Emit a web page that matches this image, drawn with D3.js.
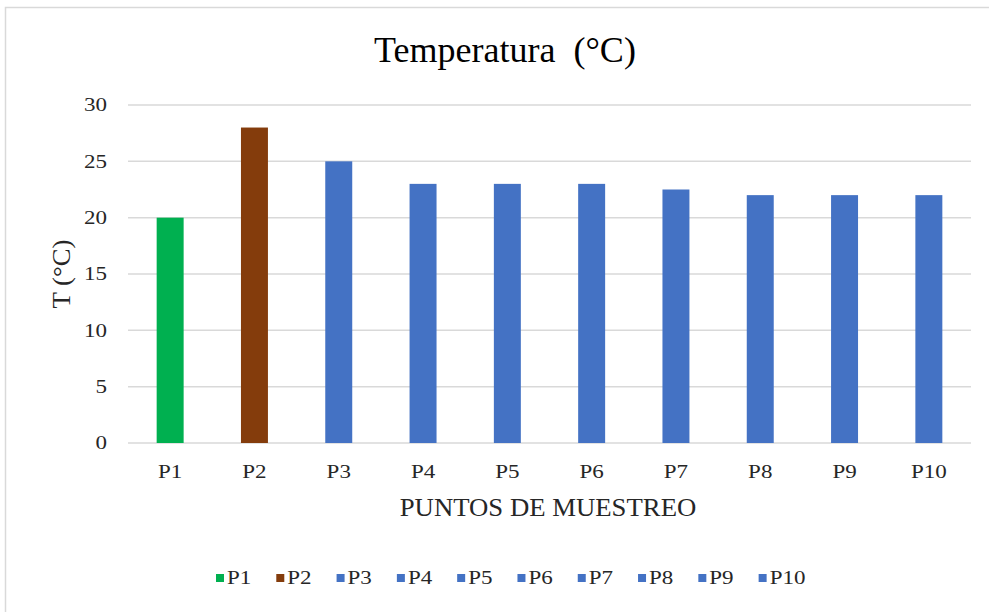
<!DOCTYPE html>
<html>
<head>
<meta charset="utf-8">
<script src="https://cdn.jsdelivr.net/npm/d3@7"></script>
<style>
  body { margin: 0; background: #fff; }
  text { font-family: "Liberation Serif", "Times New Roman", serif; }
</style>
</head>
<body>
<svg width="989" height="612"></svg>
<script>
var categories = ["P1", "P2", "P3", "P4", "P5", "P6", "P7", "P8", "P9", "P10"];
var temps = [20, 28, 25, 23, 23, 23, 22.5, 22, 22, 22];
var barColors = ["#00b050", "#843c0c", "#4472c4", "#4472c4", "#4472c4", "#4472c4", "#4472c4", "#4472c4", "#4472c4", "#4472c4"];
var yTicks = [0, 5, 10, 15, 20, 25, 30];

var svg = d3.select("svg");

const margin = { left: 128, right: 971, top: 105, bottom: 443 };
const smallStretch = 1.18; // small labels render wider in the original
const titleStretch = 1.07;

// chart frame
svg.append("rect")
  .attr("x", 5.5).attr("y", 7.5)
  .attr("width", 1000).attr("height", 700)
  .attr("fill", "#fff")
  .attr("stroke", "#d9d9d9")
  .attr("stroke-width", 1.5);

const x = d3.scaleBand()
  .domain(categories)
  .range([margin.left, margin.right])
  .paddingInner(0.68)
  .paddingOuter(0.34);

const y = d3.scaleLinear()
  .domain([0, 30])
  .range([margin.bottom, margin.top]);

function stretchedText(parent, px, py, s, size, anchor, label, rotate) {
  return parent.append("text")
    .attr("transform", `translate(${px},${py})${rotate ? " rotate(-90)" : ""} scale(${s},1)`)
    .attr("text-anchor", anchor)
    .attr("dominant-baseline", "central")
    .attr("fill", "#262626")
    .attr("font-size", size)
    .text(label);
}

// gridlines
svg.selectAll("line.grid")
  .data(yTicks)
  .enter()
  .append("line")
  .attr("class", "grid")
  .attr("x1", margin.left)
  .attr("x2", margin.right)
  .attr("y1", (d) => y(d))
  .attr("y2", (d) => y(d))
  .attr("stroke", "#d9d9d9")
  .attr("stroke-width", 1.5);

// y tick labels
yTicks.forEach((d) => {
  stretchedText(svg, 107, y(d), smallStretch, 19.5, "end", d);
});

// bars
svg.selectAll("rect.bar")
  .data(temps)
  .enter()
  .append("rect")
  .attr("class", "bar")
  .attr("x", (d, i) => x(categories[i]))
  .attr("y", (d) => y(d))
  .attr("width", x.bandwidth())
  .attr("height", (d) => y(0) - y(d))
  .attr("fill", (d, i) => barColors[i]);

// x tick labels
categories.forEach((c) => {
  stretchedText(svg, x(c) + x.bandwidth() / 2, 472, smallStretch, 19.5, "middle", c);
});

// title
svg.append("text")
  .attr("x", 505)
  .attr("y", 62)
  .attr("text-anchor", "middle")
  .attr("fill", "#000")
  .attr("font-size", 36)
  .style("white-space", "pre")
  .text("Temperatura  (°C)");

// axis titles
stretchedText(svg, 548, 508, titleStretch, 25, "middle", "PUNTOS DE MUESTREO");
stretchedText(svg, 62, 274, titleStretch, 25, "middle", "T (°C)", true);

// legend
const legend = svg.append("g").attr("transform", "translate(216,578)");
let lx = 0;
categories.forEach((c, i) => {
  legend.append("rect")
    .attr("x", lx).attr("y", -4)
    .attr("width", 8).attr("height", 8)
    .attr("fill", barColors[i]);
  const t = stretchedText(legend, lx + 11, 0, smallStretch, 19.5, "start", c);
  lx += 11 + t.node().getComputedTextLength() * smallStretch + 25;
});
</script>
</body>
</html>
